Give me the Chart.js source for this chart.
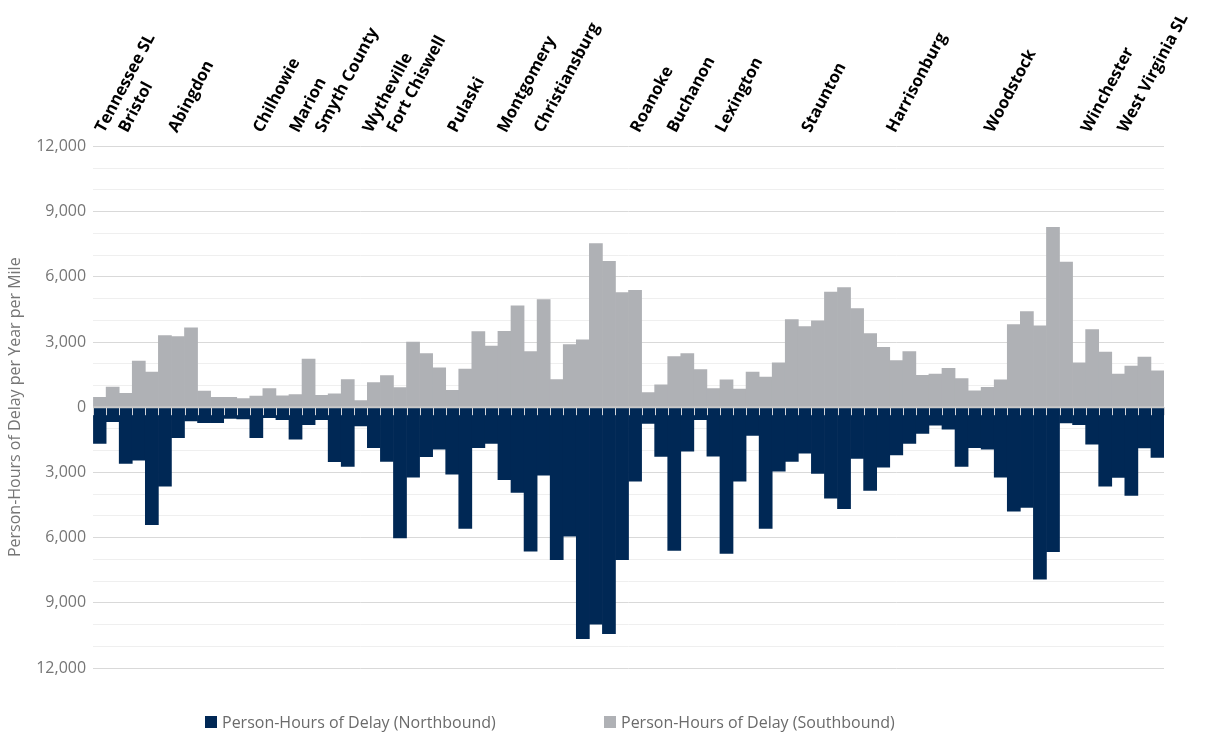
<!DOCTYPE html>
<html>
<head>
<meta charset="utf-8">
<title>Person-Hours of Delay per Year per Mile</title>
<script src="https://cdn.jsdelivr.net/npm/chart.js@4.4.1/dist/chart.umd.min.js"></script>
<style>
  html, body { margin: 0; padding: 0; background: #fff; }
  #wrap { position: relative; width: 1223px; height: 737px; }
  #delayChart { position: absolute; left: 0; top: 0; }
  .legend-item {
    position: absolute; top: 711px; display: flex; align-items: center;
    font: 16px 'Open Sans', sans-serif; color: #6b6b6b; white-space: nowrap;
  }
  .legend-item i { display: inline-block; width: 12px; height: 12px; margin-right: 5px; }
</style>
</head>
<body>
<div id="wrap">
  <canvas id="delayChart" width="1223" height="737"></canvas>
  <div class="legend-item" style="left:205px"><i style="background:#002855"></i>Person-Hours of Delay (Northbound)</div>
  <div class="legend-item" style="left:604px"><i style="background:#afb1b5"></i>Person-Hours of Delay (Southbound)</div>
</div>
<script>
// Corridor segments, south (Tennessee) to north (West Virginia)
const SOUTHBOUND = [
  450, 930, 640, 2120, 1620, 3300, 3250, 3650, 740, 450,
  450, 400, 510, 860, 520, 580, 2210, 550, 610, 1270,
  310, 1130, 1460, 900, 3000, 2470, 1810, 780, 1750, 3480,
  2810, 3490, 4660, 2560, 4950, 1270, 2880, 3100, 7530, 6710,
  5270, 5380, 670, 1030, 2330, 2470, 1730, 860, 1260, 830,
  1620, 1390, 2040, 4030, 3710, 3970, 5300, 5500, 4540, 3390,
  2760, 2150, 2560, 1470, 1520, 1790, 1320, 750, 920, 1260,
  3800, 4400, 3740, 8280, 6680, 2040, 3570, 2540, 1520, 1890,
  2310, 1670
];

// Northbound delay, plotted below the zero line
const NORTHBOUND = [
  1670, 660, 2590, 2440, 5400, 3630, 1400, 630, 710, 710,
  520, 540, 1400, 480, 570, 1470, 800, 570, 2510, 2730,
  860, 1860, 2500, 6010, 3220, 2280, 1930, 3080, 5580, 1860,
  1670, 3330, 3920, 6620, 3130, 7020, 5930, 10650, 9980, 10420,
  7020, 3400, 750, 2270, 6590, 2020, 570, 2250, 6730, 3400,
  1300, 5580, 2940, 2500, 2120, 3050, 4180, 4670, 2360, 3830,
  2760, 2190, 1670, 1210, 830, 1010, 2730, 1860, 1930, 3220,
  4780, 4610, 7910, 6650, 720, 800, 1700, 3630, 3230, 4060,
  1870, 2310
];

const SEGMENTS = SOUTHBOUND.map((_, i) => String(i + 1));

// Place names along the route, positioned in segment units
const PLACE_NAMES = [
  'Tennessee SL', 'Bristol', 'Abingdon', 'Chilhowie', 'Marion', 'Smyth County',
  'Wytheville', 'Fort Chiswell', 'Pulaski', 'Montgomery', 'Christiansburg',
  'Roanoke', 'Buchanon', 'Lexington', 'Staunton', 'Harrisonburg', 'Woodstock',
  'Winchester', 'West Virginia SL'
];
const PLACE_POS = [
  1.35, 3.15, 6.95, 13.45, 16.25, 18.2,
  21.85, 23.7, 28.35, 32.15, 34.95,
  42.35, 45.15, 48.85, 55.45, 61.95, 69.45,
  76.85, 79.65
];

const Y_MAX = 12000;
const Y_STEP = 1000;
const Y_LABEL_STEP = 3000;

const FONT = "'Open Sans', sans-serif";
const NAVY = '#002855';
const GRAY = '#afb1b5';

// zero line plus the little segment ticks hanging under it
const zeroAxis = {
  id: 'zeroAxis',
  afterDatasetsDraw(chart) {
    const { ctx, chartArea, scales: { x, y } } = chart;
    const y0 = y.getPixelForValue(0);
    const half = (x.getPixelForValue(1) - x.getPixelForValue(0)) / 2;
    ctx.save();
    ctx.strokeStyle = '#d4d6da';
    ctx.lineWidth = 1;
    ctx.beginPath();
    for (let i = 0; i <= SEGMENTS.length; i++) {
      const px = Math.round(x.getPixelForValue(i) - half) + 0.5;
      ctx.moveTo(px, y0);
      ctx.lineTo(px, y0 + 8);
    }
    ctx.stroke();
    ctx.strokeStyle = '#c9c9c9';
    ctx.lineWidth = 2;
    ctx.beginPath();
    ctx.moveTo(chartArea.left, y0);
    ctx.lineTo(chartArea.right, y0);
    ctx.stroke();
    ctx.restore();
  }
};

new Chart(document.getElementById('delayChart'), {
  type: 'bar',
  data: {
    labels: SEGMENTS,
    datasets: [
      {
        label: 'Person-Hours of Delay (Northbound)',
        data: NORTHBOUND.map(v => -v),
        backgroundColor: NAVY,
        borderWidth: 0,
        barPercentage: 1,
        categoryPercentage: 1
      },
      {
        label: 'Person-Hours of Delay (Southbound)',
        data: SOUTHBOUND,
        backgroundColor: GRAY,
        borderWidth: 0,
        barPercentage: 1,
        categoryPercentage: 1
      }
    ]
  },
  options: {
    responsive: false,
    animation: false,
    layout: { padding: { left: 6, right: 59, top: 0, bottom: 69 } },
    plugins: {
      legend: { display: false },
      tooltip: { enabled: false }
    },
    scales: {
      x: {
        display: false,
        stacked: true
      },
      // place names, same range as the segment axis (bar charts default offset:true, so turn it off)
      xTop: {
        type: 'linear',
        position: 'top',
        offset: false,
        min: -0.5,
        max: SEGMENTS.length - 0.5,
        afterBuildTicks: axis => { axis.ticks = PLACE_POS.map(v => ({ value: v })); },
        ticks: {
          autoSkip: false,
          minRotation: 62,
          maxRotation: 62,
          padding: 10.5,
          color: '#000',
          font: { family: FONT, size: 16.5, weight: 'bold' },
          callback: (v, i) => PLACE_NAMES[i]
        },
        grid: { display: false, drawTicks: false, offset: false },
        border: { display: false }
      },
      y: {
        stacked: true,
        min: -Y_MAX,
        max: Y_MAX,
        ticks: {
          stepSize: Y_STEP,
          autoSkip: false,
          padding: 7,
          color: '#767676',
          font: { family: FONT, size: 16 },
          callback: v => v % Y_LABEL_STEP === 0 ? Math.abs(v).toLocaleString('en-US') : ''
        },
        grid: {
          drawTicks: false,
          lineWidth: 1,
          color: c => c.tick.value === 0 ? 'rgba(0,0,0,0)'
            : (c.tick.value % Y_LABEL_STEP === 0 ? '#d9d9d9' : '#efefef')
        },
        border: { display: false },
        title: {
          display: true,
          text: 'Person-Hours of Delay per Year per Mile',
          color: '#767676',
          font: { family: FONT, size: 16 },
          padding: { top: 0, bottom: 4 }
        }
      }
    }
  },
  plugins: [zeroAxis]
});
</script>
</body>
</html>
